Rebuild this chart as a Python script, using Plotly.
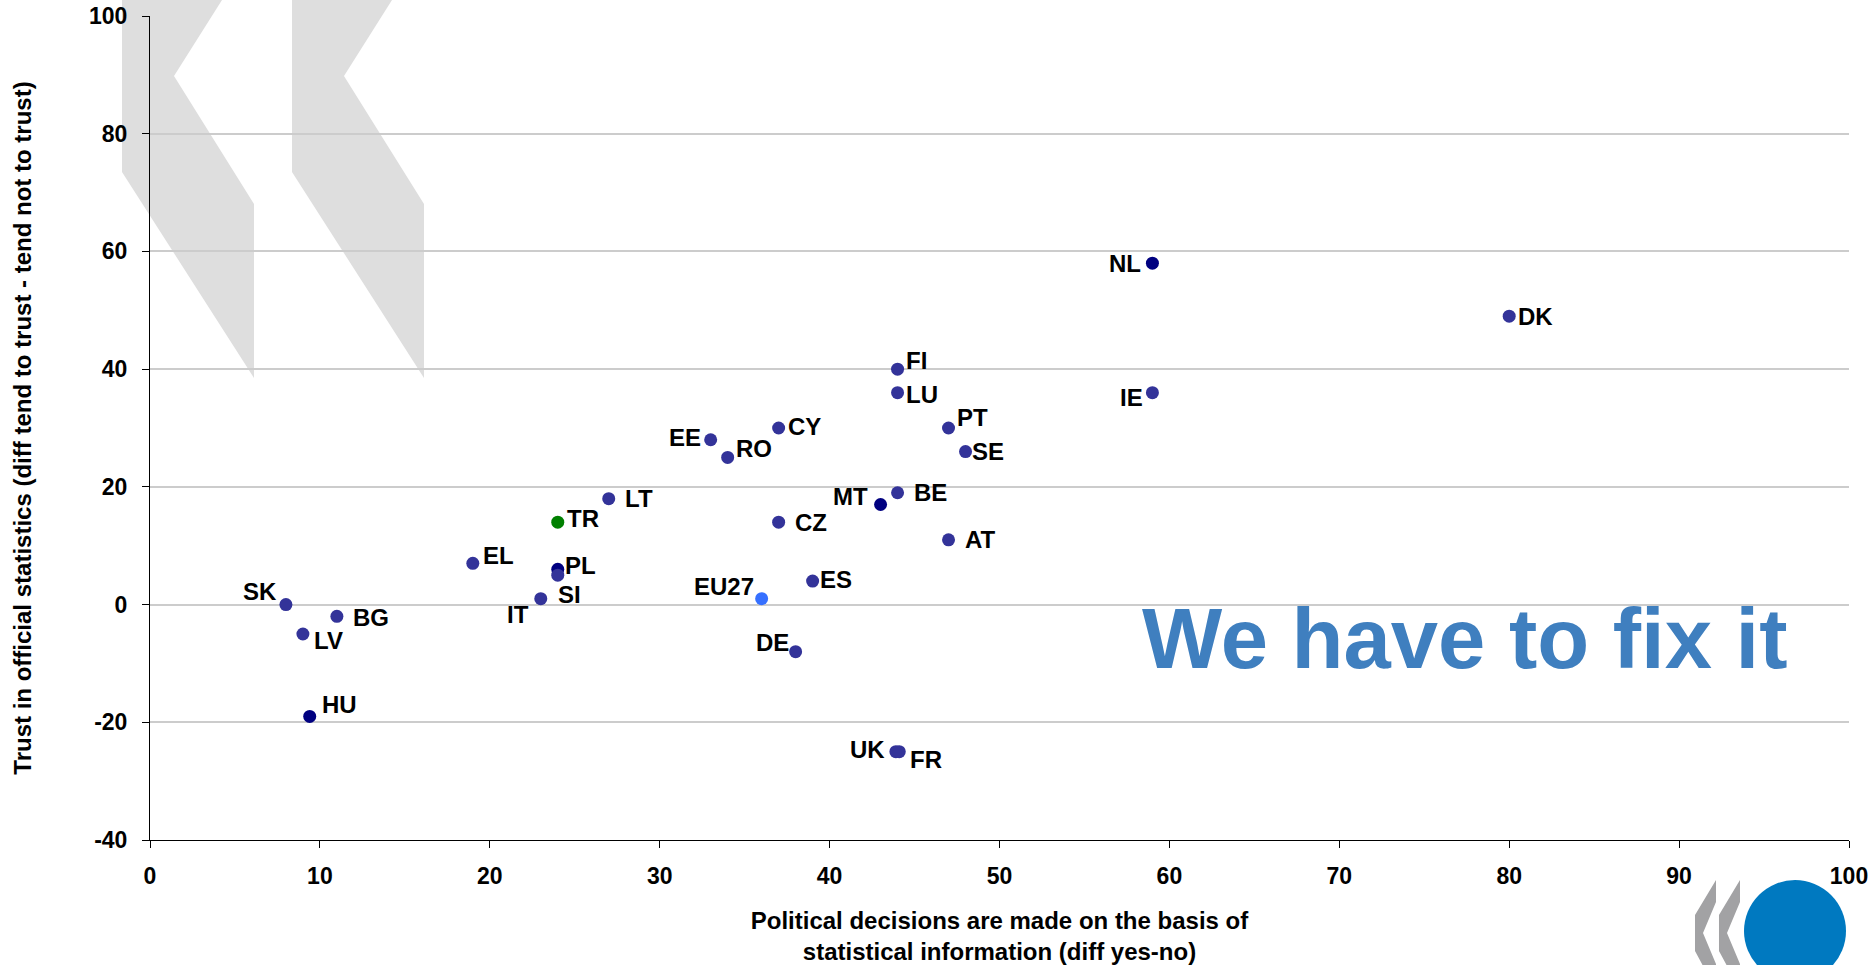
import plotly.graph_objects as go

# ---- data ----
countries = ["NL", "DK", "IE", "FI", "LU", "PT", "SE", "CY", "EE", "RO",
             "LT", "MT", "BE", "CZ", "AT", "ES", "EU27", "SK", "BG", "LV",
             "HU", "EL", "IT", "TR", "PL", "SI", "DE", "UK", "FR"]
political_decisions = [59, 80, 59, 44, 44, 47, 48, 37, 33, 34,
                       27, 43, 44, 37, 47, 39, 36, 8, 11, 9,
                       9.4, 19, 23, 24, 24, 24, 38, 43.9, 44.1]
trust_stats = [58, 49, 36, 40, 36, 30, 26, 30, 28, 25,
               18, 17, 19, 14, 11, 4, 1, 0, -2, -5,
               -19, 7, 1, 14, 6, 5, -8, -25, -25]
x_ticks = list(range(0, 101, 10))
y_ticks = list(range(-40, 101, 20))
x_tick_labels = [str(v) for v in x_ticks]
y_tick_labels = [str(v) for v in y_ticks]

# ---- styling ----
C_DEF = "#333399"
C_NAVY = "#000080"
special_colors = {"NL": C_NAVY, "HU": C_NAVY, "MT": C_NAVY, "PL": C_NAVY,
                  "TR": "#008000", "EU27": "#3670FF"}
colors = [special_colors.get(c, C_DEF) for c in countries]

# label placement: (side, horizontal gap px, vertical offset px, + = down)
label_pos = {
    "NL": ("right", 13, 0), "DK": ("left", 11, 0), "IE": ("right", 11, 5),
    "FI": ("left", 10, -9), "LU": ("left", 10, 2), "PT": ("left", 10, -11),
    "SE": ("left", 8, 0), "CY": ("left", 11, -2), "EE": ("right", 12, -2),
    "RO": ("left", 10, -9), "LT": ("left", 18, 0), "MT": ("right", 15, -8),
    "BE": ("left", 18, 0), "CZ": ("left", 18, 0), "AT": ("left", 18, 0),
    "ES": ("left", 9, -2), "EU27": ("right", 10, -12), "SK": ("right", 11, -13),
    "BG": ("left", 18, 1), "LV": ("left", 13, 6), "HU": ("left", 14, -12),
    "EL": ("left", 12, -8), "IT": ("right", 14, 16), "TR": ("left", 11, -4),
    "PL": ("left", 9, -4), "SI": ("left", 2, 19), "DE": ("right", 9, -9),
    "UK": ("right", 13, -2), "FR": ("left", 13, 8),
}
PAD_COMP = 4  # compensate annotation box padding

FONT = "Liberation Sans, Arial, sans-serif"
W, H = 1875, 965
ML, MR, MT_, MB = 150, 26, 16, 125
PW, PH = W - ML - MR, H - MT_ - MB


def px(xp):
    return (xp - ML) / PW


def py(yp):
    return (H - MB - yp) / PH


def path(points):
    return "M " + " L ".join(f"{px(a):.5f},{py(b):.5f}" for a, b in points) + " Z"


fig = go.Figure()
fig.add_trace(go.Scatter(
    x=political_decisions, y=trust_stats, mode="markers",
    marker=dict(size=13, color=colors, line=dict(width=0)),
    text=countries, hoverinfo="text+x+y", showlegend=False, cliponaxis=False,
))

annotations = []
for c, xv, yv in zip(countries, political_decisions, trust_stats):
    side, gap, dy = label_pos[c]
    g = gap - PAD_COMP
    annotations.append(dict(
        x=xv, y=yv, xref="x", yref="y", text=c, showarrow=False,
        xanchor="left" if side == "left" else "right", yanchor="middle",
        xshift=g if side == "left" else -g, yshift=-dy,
        font=dict(family=FONT, size=24, color="black", weight="bold"),
    ))

annotations.append(dict(
    x=px(1465), y=py(638), xref="paper", yref="paper",
    text="We have to fix it", showarrow=False,
    xanchor="center", yanchor="middle",
    font=dict(family=FONT, size=85, color="#3F7FBF", weight="bold"),
))

# watermark chevrons (upper-left) and logo (bottom-right)
shapes = []
wm = [(122, 0), (222, 0), (174, 76), (254, 204), (254, 378), (122, 172)]
for off in (0, 170):
    shapes.append(dict(type="path", xref="paper", yref="paper", layer="below",
                       path=path([(a + off, b) for a, b in wm]),
                       fillcolor="#DEDEDE", line=dict(width=0)))
logo = [(1716, 880), (1716, 902), (1703, 933), (1716, 964), (1716, 990),
        (1695, 951), (1695, 915)]
for off in (0, 24):
    shapes.append(dict(type="path", xref="paper", yref="paper", layer="above",
                       path=path([(a + off, b) for a, b in logo]),
                       fillcolor="#A2A2A4", line=dict(width=0)))
shapes.append(dict(type="circle", xref="paper", yref="paper", layer="above",
                   x0=px(1744), x1=px(1846), y0=py(982), y1=py(880),
                   fillcolor="#0079C0", line=dict(width=0)))

fig.update_layout(
    width=W, height=H,
    margin=dict(l=ML, r=MR, t=MT_, b=MB, autoexpand=False),
    paper_bgcolor="white", plot_bgcolor="rgba(0,0,0,0)",
    font=dict(family=FONT, color="black"),
    annotations=annotations, shapes=shapes,
    xaxis=dict(
        range=[0, 100], tickmode="array", tickvals=x_ticks, ticktext=x_tick_labels,
        showgrid=False, zeroline=False,
        showline=True, linecolor="black", linewidth=1,
        ticks="outside", ticklen=7, tickcolor="black",
        tickfont=dict(family=FONT, size=23, weight="bold"),
        ticklabelstandoff=8,
        title=dict(text="Political decisions are made on the basis of<br>statistical information (diff yes-no)",
                   font=dict(family=FONT, size=24, weight="bold"), standoff=30),
        automargin=False,
    ),
    yaxis=dict(
        range=[-40, 100], tickmode="array", tickvals=y_ticks, ticktext=y_tick_labels,
        showgrid=True, gridcolor="#CCCCCC",
        gridwidth=1.5, zeroline=False,
        showline=True, linecolor="black", linewidth=1,
        ticks="outside", ticklen=7, tickcolor="black",
        tickfont=dict(family=FONT, size=23, weight="bold"),
        ticklabelstandoff=10,
        title=dict(text="Trust in official statistics (diff tend to trust - tend not to trust)",
                   font=dict(family=FONT, size=24, weight="bold"), standoff=50),
        automargin=False,
    ),
)

fig.write_html(
    "out.html",
    config={"displayModeBar": False},
    post_script="document.body.style.margin='0';document.body.style.overflow='hidden';",
)
